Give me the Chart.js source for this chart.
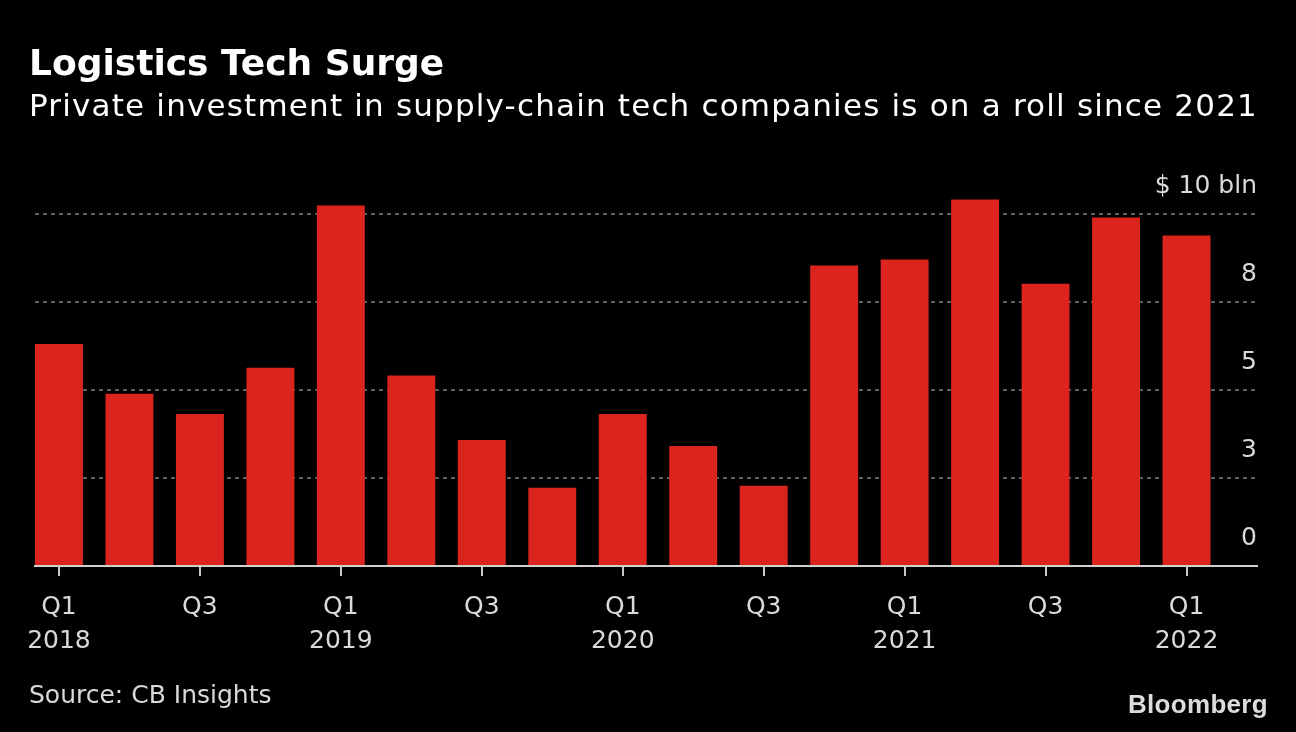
<!DOCTYPE html>
<html>
<head>
<meta charset="utf-8">
<script src="https://cdn.jsdelivr.net/npm/chart.js@4"></script>
<style>
  html, body { margin:0; padding:0; background:#000; }
  body { width:1296px; height:732px; position:relative; overflow:hidden; font-family:"DejaVu Sans", sans-serif; }
  #wrap { position:absolute; left:0; top:0; width:1296px; height:732px; }
  .txt { position:absolute; white-space:nowrap; line-height:1; }
  #title { left:29px; top:45px; font-size:36px; font-weight:bold; color:#fff; }
  #subtitle { left:29px; top:90px; font-size:31px; letter-spacing:1.18px; color:#fff; }
  #source { left:29px; top:682px; font-size:25px; color:#d9d9d9; }
  #brand { left:1128px; top:691px; font-size:26px; font-weight:bold; color:#dcdcdc; font-family:"Liberation Sans", Arial, sans-serif; letter-spacing:0.3px; }
</style>
</head>
<body>
<div id="wrap"><canvas id="c" width="1296" height="732"></canvas></div>
<div class="txt" id="title">Logistics Tech Surge</div>
<div class="txt" id="subtitle">Private investment in supply-chain tech companies is on a roll since 2021</div>
<div class="txt" id="source">Source: CB Insights</div>
<div class="txt" id="brand">Bloomberg</div>
<script>
// Quarters (categories)
const quarters = ['Q1 2018','Q2 2018','Q3 2018','Q4 2018',
                  'Q1 2019','Q2 2019','Q3 2019','Q4 2019',
                  'Q1 2020','Q2 2020','Q3 2020','Q4 2020',
                  'Q1 2021','Q2 2021','Q3 2021','Q4 2021',
                  'Q1 2022'];
// Private investment, $ bln
const investment = [6.31, 4.89, 4.32, 5.63,
                    10.24, 5.41, 3.58, 2.22,
                    4.32, 3.41, 2.28, 8.54,
                    8.71, 10.41, 8.02, 9.90,
                    9.39];
// Y tick values and their labels
const yTickValues = [0, 2.5, 5, 7.5, 10];
const yTickLabels = ['0', '3', '5', '8', '$ 10 bln'];

const xTickIdx = quarters.map((q, i) => i).filter(i => /^Q[13]/.test(quarters[i]));
function xLabel(i) {
  const [q, y] = quarters[i].split(' ');
  return q === 'Q1' ? [q, y] : [q];
}

new Chart(document.getElementById('c'), {
  type: 'bar',
  data: {
    datasets: [{
      data: investment.map((v, i) => ({ x: i, y: v })),
      backgroundColor: '#dc241f',
      borderWidth: 0,
      barPercentage: 0.68,
      categoryPercentage: 1,
      clip: false
    }]
  },
  options: {
    responsive: false,
    animation: false,
    events: [],
    layout: { padding: { left: 35, right: 39, top: 214, bottom: 0 } },
    plugins: { legend: { display: false }, tooltip: { enabled: false } },
    scales: {
      x: {
        type: 'linear',
        offset: false,
        min: -0.34,
        max: 17.0,
        afterBuildTicks: s => { s.ticks = xTickIdx.map(v => ({ value: v })); },
        afterFit: s => { s.height = 166; },
        grid: { offset: false, drawOnChartArea: false, drawTicks: true, tickLength: 10, color: '#c8c8c8', lineWidth: 2 },
        border: { display: true, color: '#d0d0d0', width: 2 },
        ticks: {
          color: '#d9d9d9',
          font: { family: 'DejaVu Sans', size: 25, lineHeight: 1.36 },
          padding: 14,
          maxRotation: 0,
          autoSkip: false,
          callback: v => xLabel(v)
        }
      },
      y: {
        position: 'right',
        min: 0,
        max: 10,
        afterBuildTicks: s => { s.ticks = yTickValues.map(v => ({ value: v })); },
        afterFit: s => { s.width = 0; },
        grid: {
          drawTicks: false,
          color: ctx => (ctx.tick && ctx.tick.value === 0) ? 'rgba(0,0,0,0)' : '#5e5e5e',
          lineWidth: 2
        },
        border: { display: false, dash: [4, 4] },
        ticks: {
          mirror: true,
          padding: 0,
          labelOffset: -28,
          color: '#d9d9d9',
          font: { family: 'DejaVu Sans', size: 25 },
          callback: (v) => yTickLabels[yTickValues.indexOf(v)]
        }
      }
    }
  }
});
</script>
</body>
</html>
